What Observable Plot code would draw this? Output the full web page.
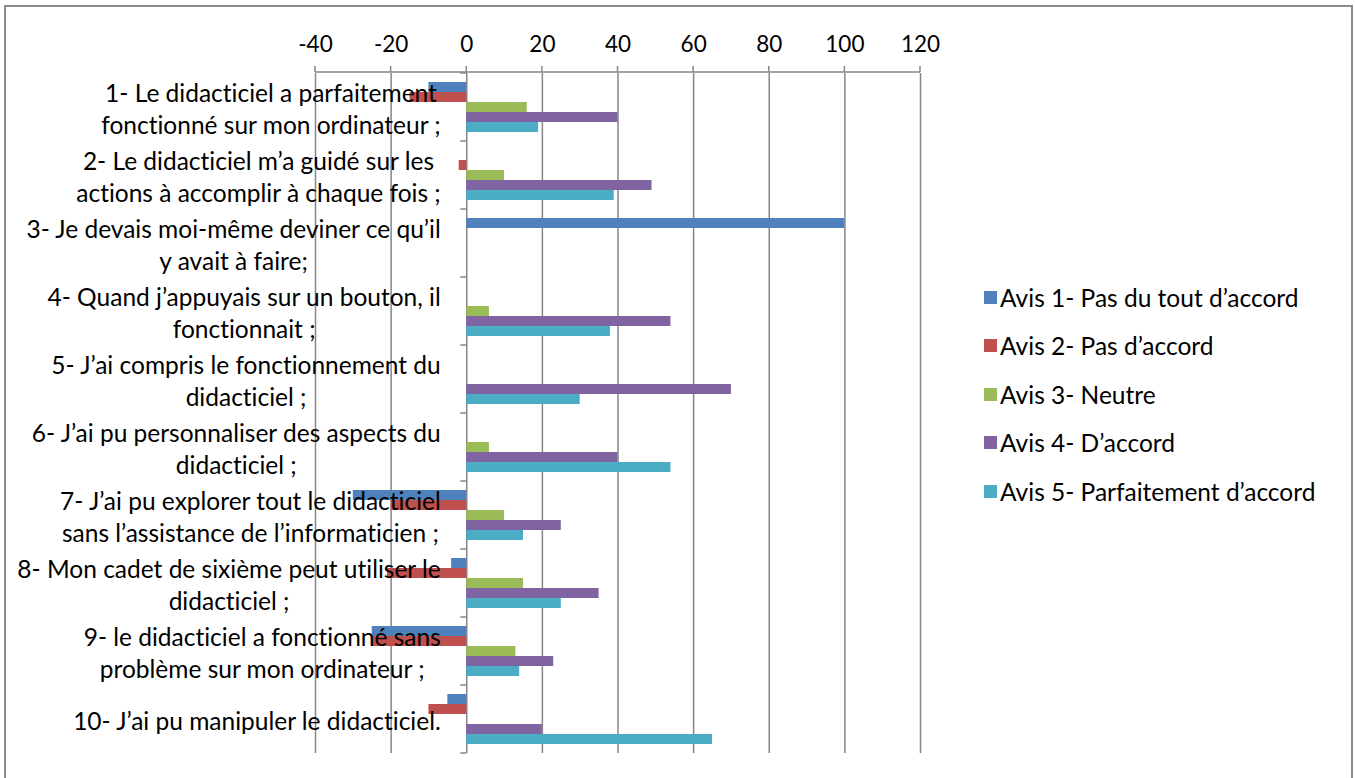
<!DOCTYPE html>
<html>
<head>
<meta charset="utf-8">
<script src="https://cdn.jsdelivr.net/npm/d3@7"></script>
<script src="https://cdn.jsdelivr.net/npm/@observablehq/plot@0.6"></script>
<style>
  html, body { margin: 0; padding: 0; background: #fff; overflow: hidden; }
  #wrap { position: relative; width: 1355px; height: 778px; overflow: hidden; font-family: Lato, sans-serif; font-variant-ligatures: none; }
  #wrap svg text { font-variant-ligatures: none; }
  #frame { position: absolute; left: 4px; top: 5px; width: 1349px; height: 800px; border: 2px solid #8c8c8c; box-sizing: border-box; }
  #chart { position: absolute; left: 0; top: 0; }
  #legend { position: absolute; left: 984px; top: 273px; }
  .item { display: flex; align-items: center; height: 48.5px; font-size: 24.5px; color: #000; white-space: nowrap; }
  .sw { width: 13px; height: 13px; margin-right: 3px; flex: none; }
</style>
</head>
<body>
<div id="wrap">
  <div id="frame"></div>
  <div id="chart"></div>
  <div id="legend"></div>
</div>
<script>
// Statements of the questionnaire (wrapped over two lines as in the survey report)
const categories = [
  "1- Le didacticiel a parfaitement\nfonctionné sur mon ordinateur ;",
  "2- Le didacticiel m’a guidé sur les\nactions à accomplir à chaque fois ;",
  "3- Je devais moi-même deviner ce qu’il\ny avait à faire;",
  "4- Quand j’appuyais sur un bouton, il\nfonctionnait ;",
  "5- J’ai compris le fonctionnement du\ndidacticiel ;",
  "6- J’ai pu personnaliser des aspects du\ndidacticiel ;",
  "7- J’ai pu explorer tout le didacticiel\nsans l’assistance de l’informaticien ;",
  "8- Mon cadet de sixième peut utiliser le\ndidacticiel ;",
  "9- le didacticiel a fonctionné sans\nproblème sur mon ordinateur ;",
  "10- J’ai pu manipuler le didacticiel."
];

// Answer levels
const series = [
  "Avis 1- Pas du tout d’accord",
  "Avis 2- Pas d’accord",
  "Avis 3- Neutre",
  "Avis 4- D’accord",
  "Avis 5- Parfaitement d’accord"
];
const colors = ["#4F81BD", "#C0504D", "#9BBB59", "#8064A2", "#4BACC6"];

// Values per answer level, one per statement
const avis1 = [-10, 0, 100, 0, 0, 0, -30, -4, -25, -5];
const avis2 = [-15, -2, 0, 0, 0, 0, -20, -21, -25, -10];
const avis3 = [16, 10, 0, 6, 0, 6, 10, 15, 13, 0];
const avis4 = [40, 49, 0, 54, 70, 40, 25, 35, 23, 20];
const avis5 = [19, 39, 0, 38, 30, 54, 15, 25, 14, 65];

const xTicks = [-40, -20, 0, 20, 40, 60, 80, 100, 120];

const seriesValues = [avis1, avis2, avis3, avis4, avis5];
const rows = categories.flatMap((category, i) =>
  series.map((s, j) => ({category, series: s, value: seriesValues[j][i]}))
);

const grey = "#868686";

const chart = Plot.plot({
  width: 1355,
  height: 778,
  marginLeft: 315,
  marginRight: 435,
  marginTop: 72,
  marginBottom: 25,
  style: {fontFamily: "Lato, sans-serif", fontSize: "22.5px", color: "#000", background: "transparent", overflow: "visible"},
  x: {domain: [-40, 120], axis: "top", ticks: xTicks, tickFormat: d => String(d), tickSize: 0, tickPadding: 22, label: null},
  y: {domain: series, axis: null, paddingInner: 0, paddingOuter: 0.8},
  fy: {domain: categories, axis: null, padding: 0},
  color: {domain: series, range: colors},
  marks: [
    Plot.ruleX(xTicks, {stroke: grey, strokeWidth: 1.5}),
    Plot.barX(rows, {x: "value", y: "series", fy: "category", fill: "series"}),
    Plot.text(categories, {fy: d => d, text: d => d, x: 0, dx: -26, textAnchor: "end", lineHeight: 1.31, fontSize: 24.5, fill: "#000"})
  ]
});

document.getElementById("chart").append(chart);

// Axis line, outer ticks and category separators
const xScale = chart.scale("x");
const fyScale = chart.scale("fy");
const svg = d3.select(chart);
const deco = svg.append("g").attr("stroke", grey).attr("stroke-width", 1.5);
const axisY = fyScale.range[0];
deco.append("line").attr("x1", xScale.apply(-40)).attr("x2", xScale.apply(120)).attr("y1", axisY).attr("y2", axisY);
for (const t of xTicks) {
  deco.append("line").attr("x1", xScale.apply(t)).attr("x2", xScale.apply(t)).attr("y1", axisY - 6).attr("y2", axisY);
}
const x0 = xScale.apply(0);
const bounds = categories.map(c => fyScale.apply(c))
  .concat([fyScale.apply(categories[categories.length - 1]) + fyScale.bandwidth]);
for (const b of bounds) {
  deco.append("line").attr("x1", x0 - 6).attr("x2", x0).attr("y1", b).attr("y2", b);
}

// Centre the wrapped lines of each statement inside its block
svg.selectAll("g[aria-label='text'] text").each(function () {
  const tspans = Array.from(this.querySelectorAll("tspan"));
  if (!tspans.length) return;
  const w = Math.max(...tspans.map(t => t.getComputedTextLength()));
  this.setAttribute("text-anchor", "middle");
  tspans.forEach(t => t.setAttribute("x", -w / 2));
});

// Legend
const legend = d3.select("#legend");
series.forEach((s, i) => {
  const item = legend.append("div").attr("class", "item");
  item.append("div").attr("class", "sw").style("background", colors[i]);
  item.append("span").text(s);
});
</script>
</body>
</html>
